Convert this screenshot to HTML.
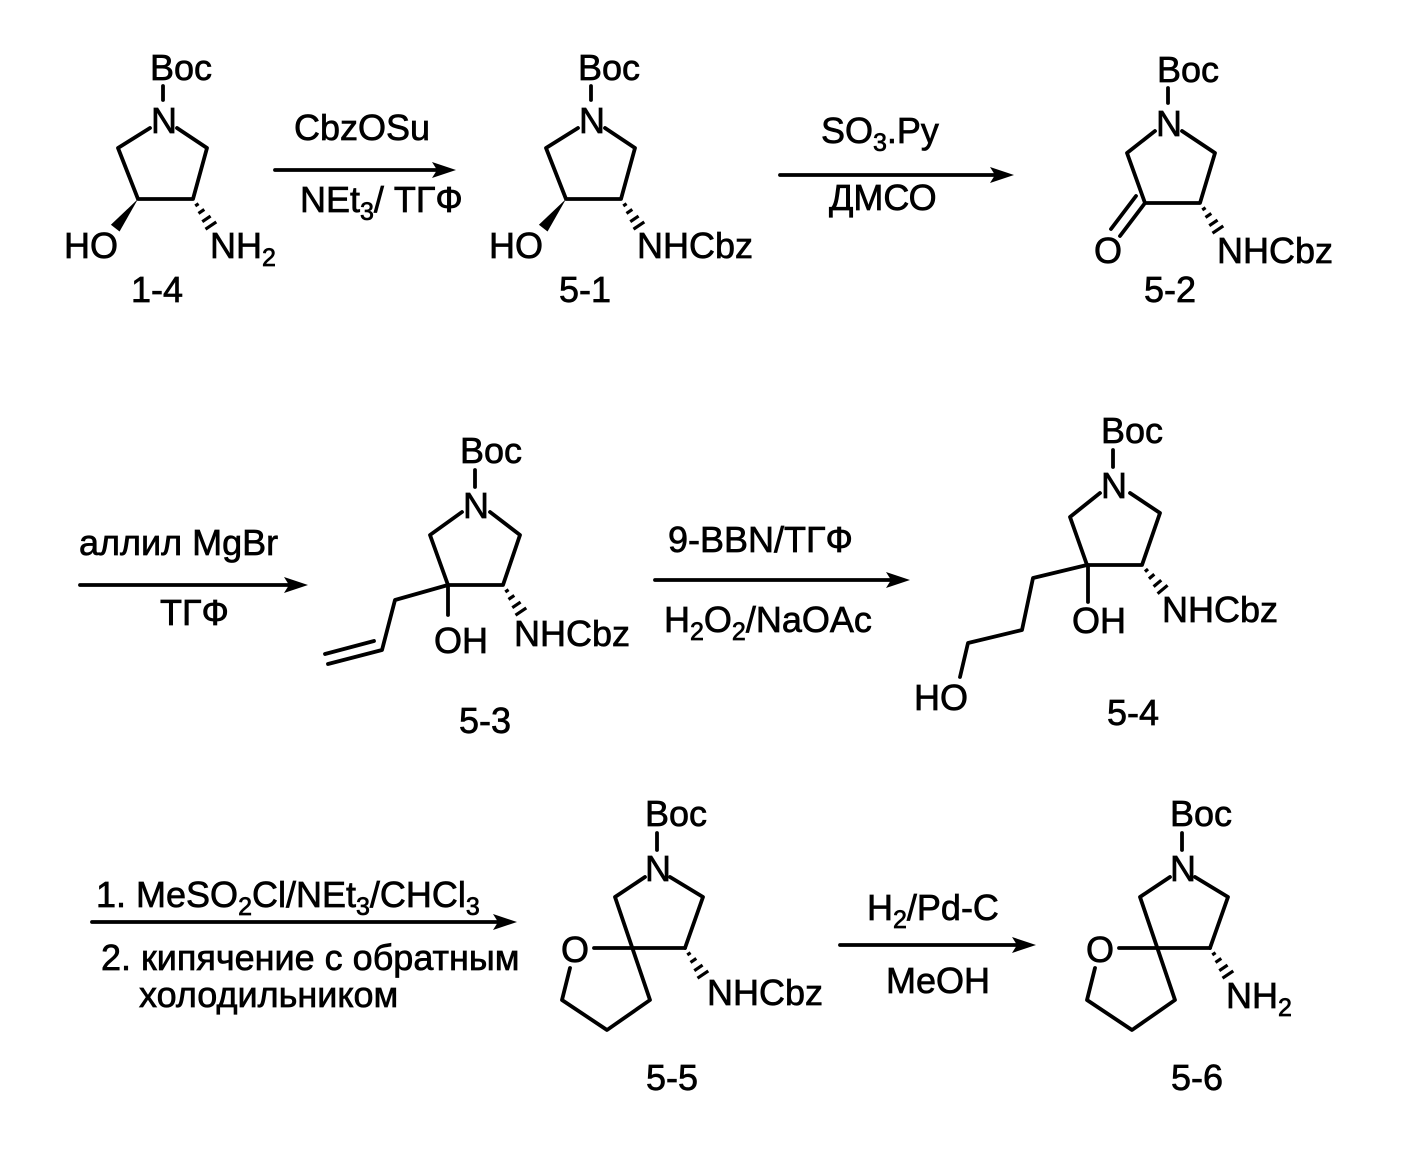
<!DOCTYPE html>
<html><head><meta charset="utf-8"><style>
html,body{margin:0;padding:0;background:#fff}
svg{display:block}
text{font-family:"Liberation Sans",sans-serif;font-size:36px;fill:#000;stroke:#000;stroke-width:0.7}
.s{font-size:25px}
</style></head><body>
<svg width="1425" height="1156" viewBox="0 0 1425 1156" xmlns="http://www.w3.org/2000/svg">
<defs>
<g id="h" stroke="#000" stroke-width="3.2">
<line x1="7" y1="-2" x2="7" y2="2"/><line x1="15" y1="-3.5" x2="15" y2="3.5"/><line x1="24" y1="-5" x2="24" y2="5"/><line x1="32" y1="-6.5" x2="32" y2="6.5"/>
</g>
<polygon id="w" points="0,0 37,-5.5 37,5.5" fill="#000"/>
</defs>
<g stroke="#000" stroke-width="3.8" fill="none" stroke-linecap="round" stroke-linejoin="round">
<line x1="163" y1="86" x2="163" y2="100"/>
<polyline points="150,128 118,148 138,199 193,199 207,148 177,128"/>
<line x1="591" y1="86" x2="591" y2="100"/>
<polyline points="578,128 546,148 566,199 621,199 635,148 605,128"/>
<line x1="1168" y1="88" x2="1168" y2="103"/>
<polyline points="1155,131 1127,153 1145,203 1200,203 1215,153 1182,131"/>
<line x1="1145" y1="203" x2="1120" y2="236"/><line x1="1136" y1="196" x2="1111" y2="229"/>
<line x1="475" y1="470" x2="475" y2="487"/>
<polyline points="462,512 430,535 448,585 503,585 520,535 490,512"/>
<polyline points="448,585 395,600 382,650 328,664"/>
<line x1="374" y1="641" x2="325" y2="654"/>
<line x1="448" y1="585" x2="448" y2="615"/>
<line x1="1113" y1="450" x2="1113" y2="467"/>
<polyline points="1100,493 1070,517 1087,565 1142,565 1160,513 1130,493"/>
<polyline points="1087,565 1033,578 1022,630 968,643 960,677"/>
<line x1="1088" y1="565" x2="1088" y2="602"/>
<line x1="657" y1="833" x2="657" y2="850"/>
<polyline points="645,877 615,897 650,1000 607,1030 562,1000 570,968"/>
<line x1="594" y1="948" x2="685" y2="948"/>
<polyline points="685,948 703,897 670,877"/>
<line x1="1182" y1="833" x2="1182" y2="850"/>
<polyline points="1170,877 1140,897 1175,1000 1132,1030 1087,1000 1095,968"/>
<line x1="1119" y1="948" x2="1210" y2="948"/>
<polyline points="1210,948 1228,897 1195,877"/>
<line x1="275" y1="170" x2="442" y2="170"/>
<line x1="780" y1="175" x2="1000" y2="175"/>
<line x1="80" y1="585" x2="295" y2="585"/>
<line x1="655" y1="580" x2="895" y2="580"/>
<line x1="92" y1="922" x2="503" y2="922"/>
<line x1="840" y1="945" x2="1022" y2="945"/>
</g>
<g fill="#000">
<polygon points="456,170 432,162 437,170 432,178"/>
<polygon points="1014,175 990,167 995,175 990,183"/>
<polygon points="308,585 284,577 289,585 284,593"/>
<polygon points="910,580 886,572 891,580 886,588"/>
<polygon points="517,922 493,914 498,922 493,930"/>
<polygon points="1036,945 1012,937 1017,945 1012,953"/>
</g>
<use href="#w" transform="translate(138,199) rotate(128)"/>
<use href="#w" transform="translate(566,199) rotate(128)"/>
<use href="#h" transform="translate(193,199) rotate(56)"/>
<use href="#h" transform="translate(621,199) rotate(56)"/>
<use href="#h" transform="translate(1200,203) rotate(56)"/>
<use href="#h" transform="translate(503,585) rotate(56)"/>
<use href="#h" transform="translate(1142,565) rotate(50)"/>
<use href="#h" transform="translate(685,948) rotate(56)"/>
<use href="#h" transform="translate(1210,948) rotate(56)"/>

<text x="150" y="80">Boc</text>
<text x="151" y="133">N</text>
<text x="64" y="258">HO</text>
<text x="210" y="258">NH<tspan class="s" dy="8">2</tspan></text>
<text x="131" y="302">1-4</text>
<text x="578" y="80">Boc</text>
<text x="579" y="133">N</text>
<text x="489" y="258">HO</text>
<text x="637" y="258">NHCbz</text>
<text x="559" y="302">5-1</text>
<text x="1157" y="82">Boc</text>
<text x="1156" y="136">N</text>
<text x="1094" y="263">O</text>
<text x="1217" y="263">NHCbz</text>
<text x="1144" y="302">5-2</text>
<text x="460" y="463">Boc</text>
<text x="463" y="518">N</text>
<text x="434" y="653">OH</text>
<text x="514" y="646">NHCbz</text>
<text x="459" y="733">5-3</text>
<text x="1101" y="443">Boc</text>
<text x="1101" y="498">N</text>
<text x="1072" y="633">OH</text>
<text x="1162" y="622">NHCbz</text>
<text x="914" y="710">HO</text>
<text x="1107" y="725">5-4</text>
<text x="645" y="826">Boc</text>
<text x="645" y="881">N</text>
<text x="561" y="962">O</text>
<text x="707" y="1005">NHCbz</text>
<text x="646" y="1090">5-5</text>
<text x="1170" y="826">Boc</text>
<text x="1170" y="881">N</text>
<text x="1086" y="962">O</text>
<text x="1226" y="1008">NH<tspan class="s" dy="8">2</tspan></text>
<text x="1171" y="1090">5-6</text>
<text x="294" y="140">CbzOSu</text>
<text x="300" y="212">NEt<tspan class="s" dy="8">3</tspan><tspan dy="-8">/ ТГФ</tspan></text>
<text x="821" y="143">SO<tspan class="s" dy="8">3</tspan><tspan dy="-8">.Py</tspan></text>
<text x="829" y="210">ДМСО</text>
<text x="79" y="555">аллил MgBr</text>
<text x="160" y="625">ТГФ</text>
<text x="668" y="552">9-BBN/ТГФ</text>
<text x="664" y="632">H<tspan class="s" dy="8">2</tspan><tspan dy="-8">O</tspan><tspan class="s" dy="8">2</tspan><tspan dy="-8">/NaOAc</tspan></text>
<text x="96" y="907">1. MeSO<tspan class="s" dy="8">2</tspan><tspan dy="-8">Cl/NEt</tspan><tspan class="s" dy="8">3</tspan><tspan dy="-8">/CHCl</tspan><tspan class="s" dy="8">3</tspan></text>
<text x="101" y="970">2. кипячение с обратным</text>
<text x="139" y="1007">холодильником</text>
<text x="867" y="920">H<tspan class="s" dy="8">2</tspan><tspan dy="-8">/Pd-C</tspan></text>
<text x="886" y="993">MeOH</text>
</svg>
</body></html>
